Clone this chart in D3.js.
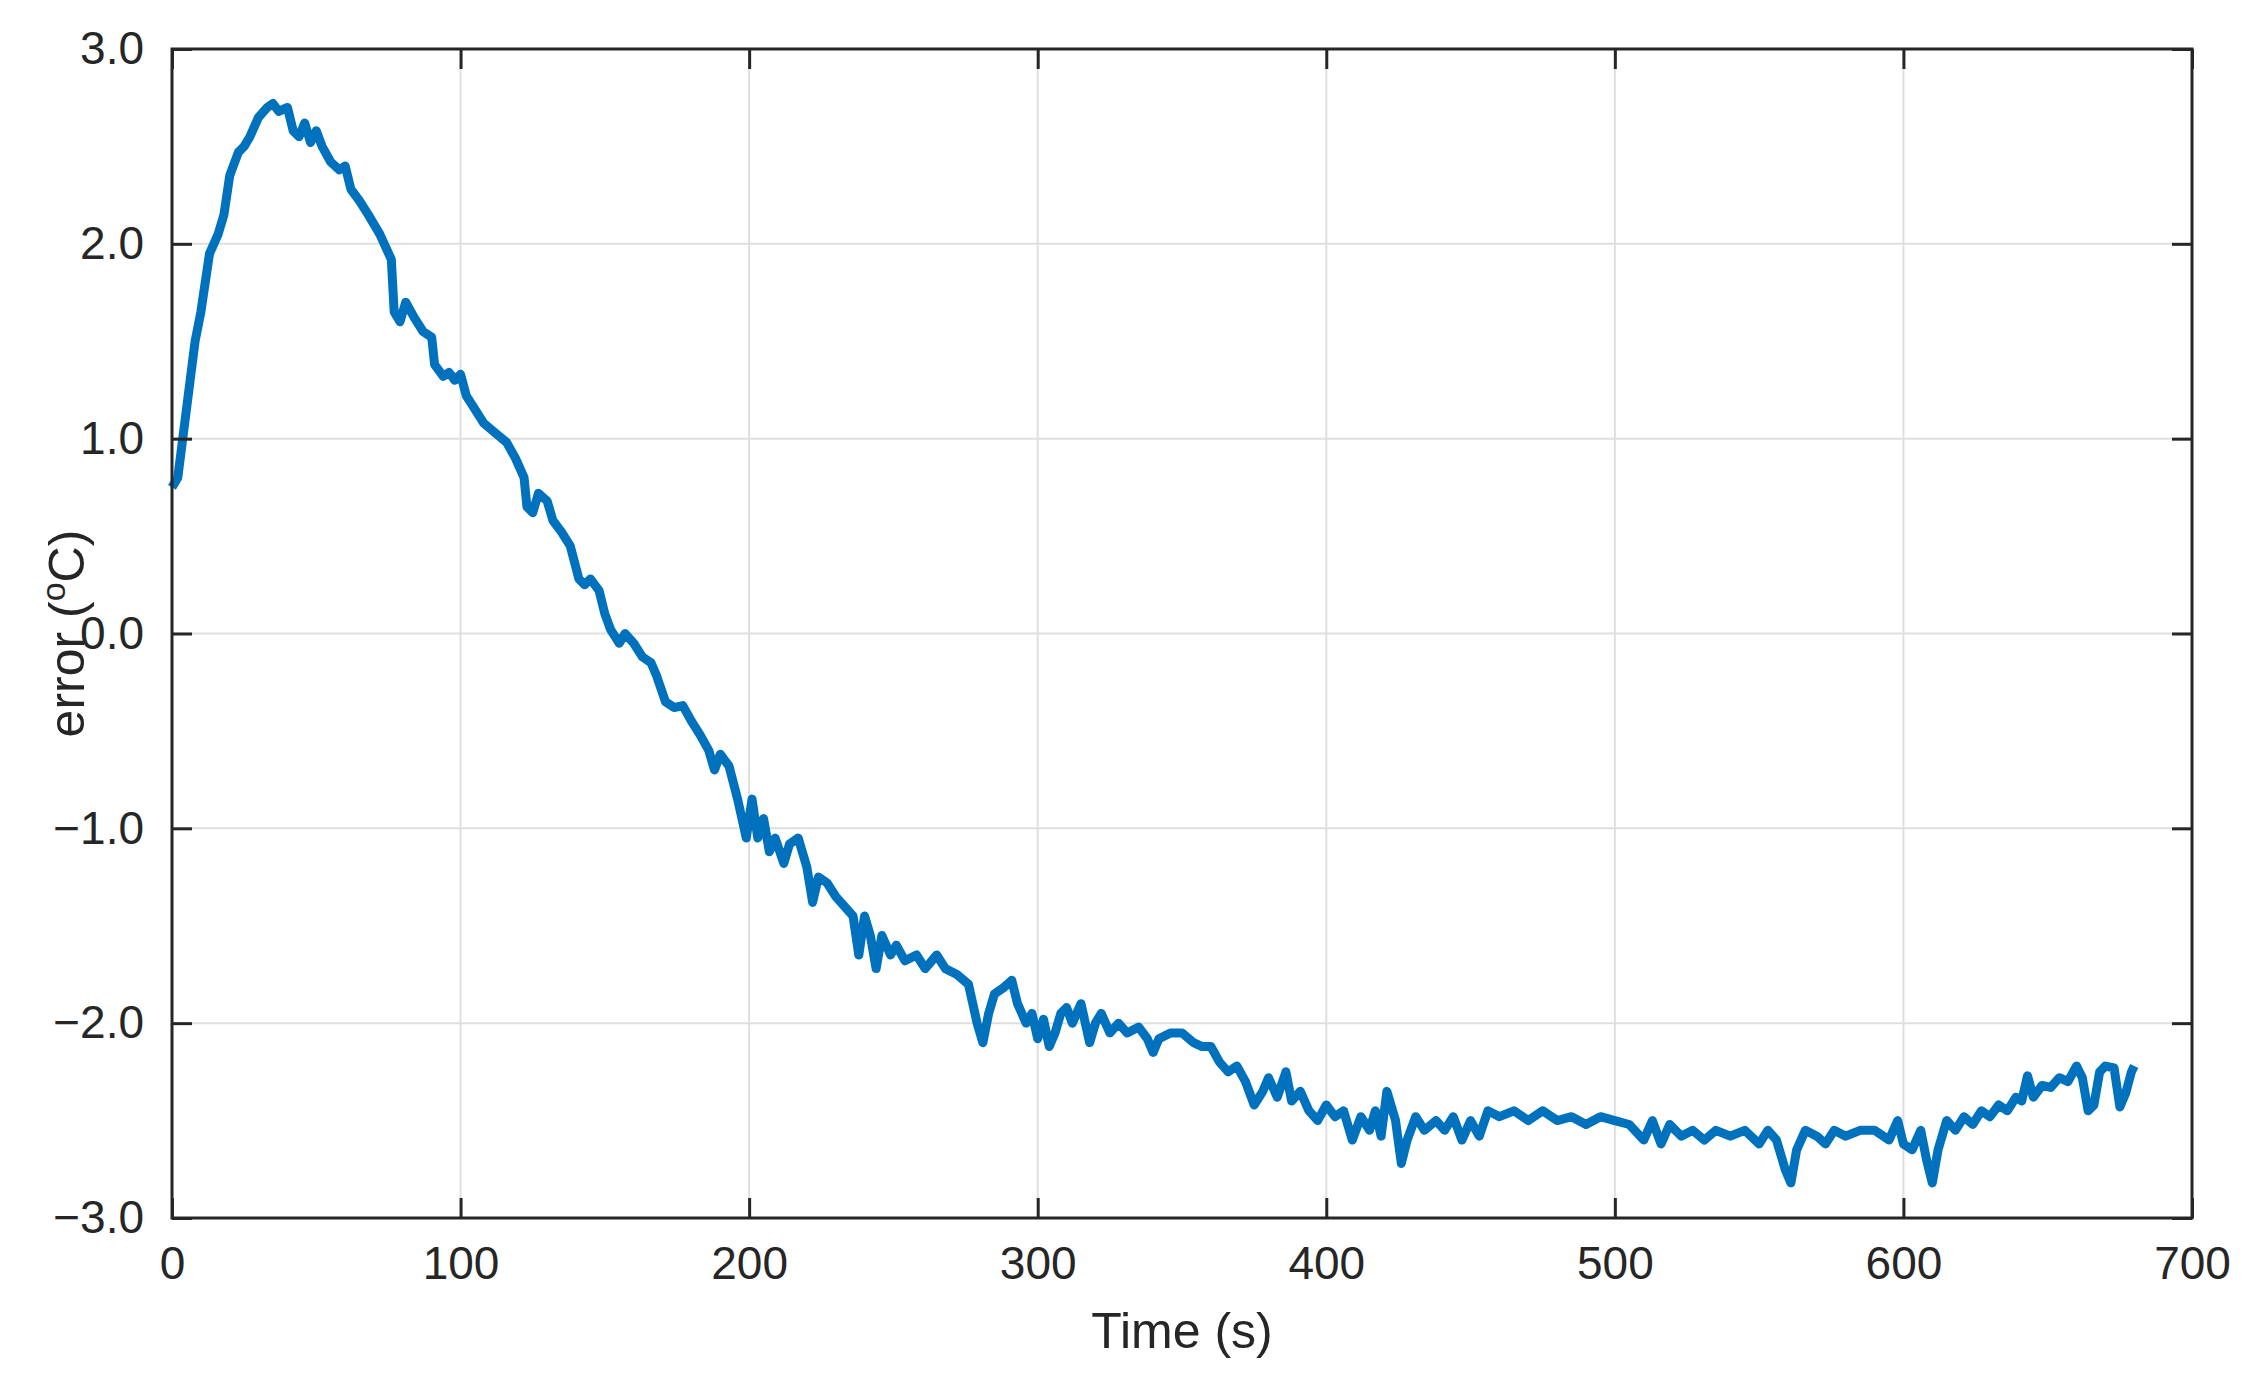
<!DOCTYPE html>
<html><head><meta charset="utf-8">
<script src="https://cdn.jsdelivr.net/npm/d3@7"></script>
<style>body{margin:0;background:#fff}text{font-family:"Liberation Sans",Arial,sans-serif;fill:#262626}</style>
</head><body>
<script>
var times = [0,2,5,8,10,13,16,18,20,23,25,27,30,33,35,37,40,42,44,46,48,50,52,55,58,60,62,65,68,72,76,77,79,81,84,87,90,91,94,96,98,100,102,105,108,112,116,119,122,123,125,127,130,132,135,138,141,143,145,148,150,152,155,157,160,163,166,168,171,174,177,180,183,186,188,190,193,196,199,201,203,205,207,209,212,214,217,220,222,224,227,230,233,236,238,240,242,244,246,249,251,254,258,261,265,268,272,276,279,281,283,285,288,291,293,296,298,300,302,304,306,308,310,312,315,318,320,322,325,328,331,335,338,340,342,346,350,354,357,360,363,366,369,372,375,378,380,383,386,388,391,394,397,400,403,406,409,412,415,417,419,421,424,426,428,431,434,438,441,444,447,450,453,456,460,465,470,475,480,485,490,495,500,505,510,513,516,519,523,527,531,535,540,545,550,553,556,559,561,563,566,570,573,576,580,585,590,595,598,600,603,606,608,610,612,615,618,621,624,627,630,633,636,639,641,643,645,648,651,654,657,660,662,664,666,668,670,673,675,677,679,680];
var errors = [0.75,0.8,1.15,1.5,1.65,1.95,2.05,2.15,2.35,2.47,2.5,2.55,2.65,2.7,2.72,2.68,2.7,2.58,2.55,2.62,2.52,2.58,2.5,2.42,2.38,2.4,2.28,2.22,2.15,2.05,1.92,1.65,1.6,1.7,1.62,1.55,1.52,1.38,1.32,1.34,1.3,1.33,1.22,1.15,1.08,1.03,0.98,0.9,0.8,0.65,0.62,0.72,0.68,0.58,0.52,0.45,0.28,0.25,0.28,0.22,0.1,0.02,-0.05,0.0,-0.05,-0.12,-0.15,-0.22,-0.35,-0.38,-0.37,-0.45,-0.52,-0.6,-0.7,-0.62,-0.68,-0.85,-1.05,-0.85,-1.05,-0.95,-1.12,-1.05,-1.18,-1.08,-1.05,-1.2,-1.38,-1.25,-1.28,-1.35,-1.4,-1.45,-1.65,-1.45,-1.55,-1.72,-1.55,-1.65,-1.6,-1.68,-1.65,-1.72,-1.65,-1.72,-1.75,-1.8,-2.0,-2.1,-1.95,-1.85,-1.82,-1.78,-1.9,-2.0,-1.95,-2.08,-1.98,-2.12,-2.05,-1.95,-1.92,-2.0,-1.9,-2.1,-2.0,-1.95,-2.05,-2.0,-2.05,-2.02,-2.08,-2.15,-2.08,-2.05,-2.05,-2.1,-2.12,-2.12,-2.2,-2.25,-2.22,-2.3,-2.42,-2.35,-2.28,-2.38,-2.25,-2.4,-2.35,-2.45,-2.5,-2.42,-2.48,-2.45,-2.6,-2.48,-2.55,-2.45,-2.58,-2.35,-2.5,-2.72,-2.6,-2.48,-2.55,-2.5,-2.55,-2.48,-2.6,-2.5,-2.58,-2.45,-2.48,-2.45,-2.5,-2.45,-2.5,-2.48,-2.52,-2.48,-2.5,-2.52,-2.6,-2.5,-2.62,-2.52,-2.58,-2.55,-2.6,-2.55,-2.58,-2.55,-2.62,-2.55,-2.6,-2.75,-2.82,-2.65,-2.55,-2.58,-2.62,-2.55,-2.58,-2.55,-2.55,-2.6,-2.5,-2.62,-2.65,-2.55,-2.7,-2.82,-2.65,-2.5,-2.55,-2.48,-2.52,-2.45,-2.48,-2.42,-2.45,-2.38,-2.4,-2.27,-2.38,-2.32,-2.33,-2.28,-2.3,-2.22,-2.28,-2.45,-2.42,-2.25,-2.22,-2.23,-2.43,-2.36,-2.25,-2.22];
var xTicks = [0,100,200,300,400,500,600,700];
var yTicks = [-3,-2,-1,0,1,2,3];

var W = 2248, H = 1379, L = 172, R = 2192, T = 49, B = 1218;
var svg = d3.select('body').append('svg').attr('width', W).attr('height', H);
var x = d3.scaleLinear().domain([0, 700]).range([L, R]);
var y = d3.scaleLinear().domain([-3, 3]).range([B, T]);

// grid
svg.append('g').selectAll('line').data(xTicks).enter().append('line')
    .attr('x1', d => x(d)).attr('x2', d => x(d)).attr('y1', T).attr('y2', B)
    .attr('stroke', '#dfdfdf').attr('stroke-width', 2);
svg.append('g').selectAll('line').data(yTicks).enter().append('line')
    .attr('y1', d => y(d)).attr('y2', d => y(d)).attr('x1', L).attr('x2', R)
    .attr('stroke', '#dfdfdf').attr('stroke-width', 2);

// data line
var line = d3.line().x((d, i) => x(times[i])).y(d => y(d));
svg.append('path').datum(errors).attr('d', line)
    .attr('fill', 'none').attr('stroke', '#0072BD').attr('stroke-width', 9)
    .attr('stroke-linejoin', 'round');

// axes
function ax(gen, tr) {
    var g = svg.append('g').attr('transform', tr).call(gen);
    g.select('.domain').remove();
    g.selectAll('.tick line').attr('stroke', '#262626').attr('stroke-width', 3);
    g.selectAll('text').style('font-size', '46px').attr('fill', '#262626');
    return g;
}
ax(d3.axisBottom(x).tickValues(xTicks).tickSize(-20).tickPadding(28), 'translate(0,' + B + ')');
ax(d3.axisTop(x).tickValues(xTicks).tickSize(-20).tickFormat(''), 'translate(0,' + T + ')');
ax(d3.axisLeft(y).tickValues(yTicks).tickSize(-20).tickPadding(28), 'translate(' + L + ',0)');
ax(d3.axisRight(y).tickValues(yTicks).tickSize(-20).tickFormat(''), 'translate(' + R + ',0)');

svg.append('rect').attr('x', L).attr('y', T).attr('width', R - L).attr('height', B - T)
    .attr('fill', 'none').attr('stroke', '#262626').attr('stroke-width', 3);

svg.append('text').attr('x', (L + R) / 2).attr('y', 1348).attr('text-anchor', 'middle')
    .style('font-size', '50px').text('Time (s)');
var yl = svg.append('text').attr('transform', 'translate(84,' + ((T + B) / 2) + ') rotate(-90)')
    .attr('text-anchor', 'middle').style('font-size', '50px');
yl.append('tspan').text('error (');
yl.append('tspan').attr('baseline-shift', 'super').style('font-size', '34px').text('o');
yl.append('tspan').text('C)');
</script>
</body></html>
